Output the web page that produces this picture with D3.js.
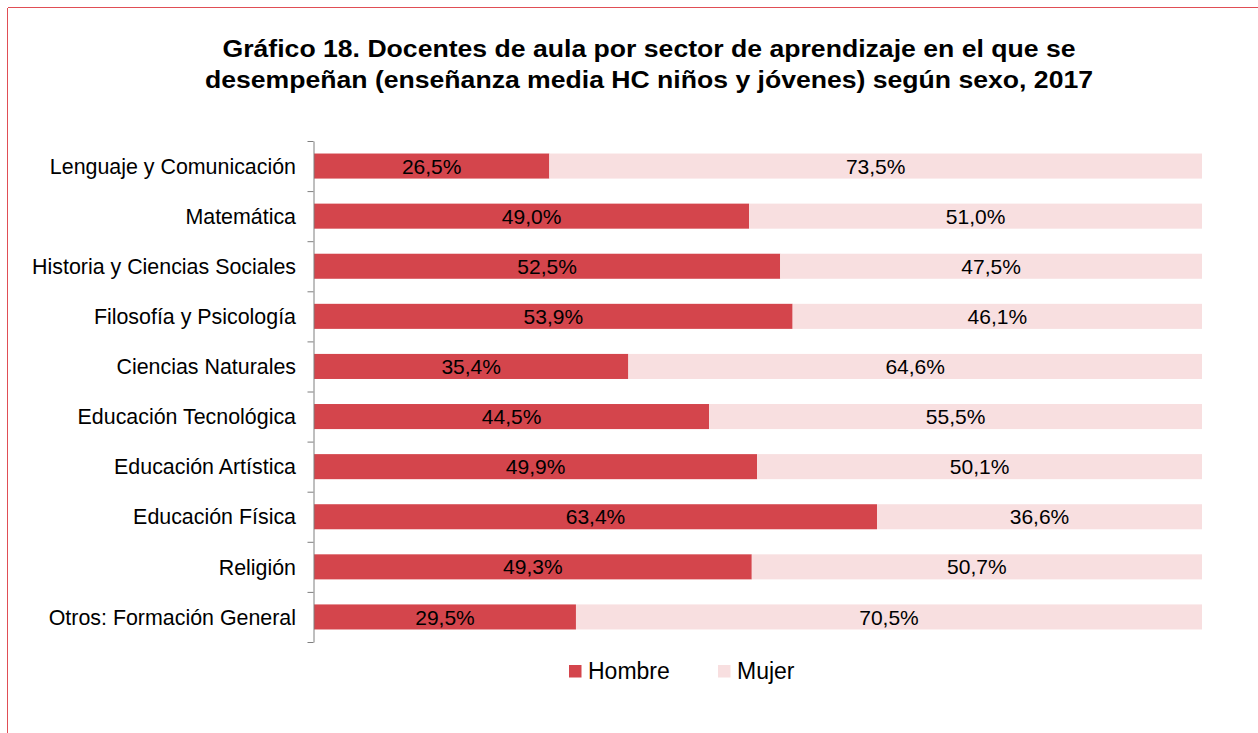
<!DOCTYPE html>
<html>
<head>
<meta charset="utf-8">
<script src="https://cdn.jsdelivr.net/npm/d3@7"></script>
<style>
  body { margin: 0; background: #fff; }
  text { font-family: "Liberation Sans", Arial, sans-serif; fill: #000; }
</style>
</head>
<body>
<svg width="1258" height="733"></svg>
<script>
// chart data
var categories = ["Lenguaje y Comunicación", "Matemática", "Historia y Ciencias Sociales",
  "Filosofía y Psicología", "Ciencias Naturales", "Educación Tecnológica",
  "Educación Artística", "Educación Física", "Religión", "Otros: Formación General"];
var hombre = [26.5, 49.0, 52.5, 53.9, 35.4, 44.5, 49.9, 63.4, 49.3, 29.5];
var mujer = [73.5, 51.0, 47.5, 46.1, 64.6, 55.5, 50.1, 36.6, 50.7, 70.5];
var seriesNames = ["Hombre", "Mujer"];
var titleLines = ["Gráfico 18. Docentes de aula por sector de aprendizaje en el que se",
  "desempeñan (enseñanza media HC niños y jóvenes) según sexo, 2017"];

var colors = {Hombre: "#d4454c", Mujer: "#f8dfe0"};

var svg = d3.select("svg");

// outer frame (runs off the right and bottom edges)
svg.append("g")
    .attr("stroke", "#e04e55")
    .attr("stroke-width", 1.5)
    .attr("shape-rendering", "crispEdges")
  .selectAll("line")
    .data([[7.5, 7.5, 1258, 7.5], [7.5, 7.5, 7.5, 733]])
  .enter().append("line")
    .attr("x1", function(d) { return d[0]; })
    .attr("y1", function(d) { return d[1]; })
    .attr("x2", function(d) { return d[2]; })
    .attr("y2", function(d) { return d[3]; });

// title, stretched a little wider like the original
var titleWidths = [853, 888];
svg.append("g").selectAll("text")
    .data(titleLines)
  .enter().append("text")
    .attr("x", 649)
    .attr("y", function(d, i) { return 56.5 + i * 31.5; })
    .attr("text-anchor", "middle")
    .attr("textLength", function(d, i) { return titleWidths[i]; })
    .attr("lengthAdjust", "spacingAndGlyphs")
    .style("font-size", "23px")
    .style("font-weight", "bold")
    .text(function(d) { return d; });

var plotLeft = 314, plotRight = 1202, plotTop = 141, plotBottom = 642;

var x = d3.scaleLinear().domain([0, 100]).range([plotLeft, plotRight]);
var y = d3.scaleBand().domain(categories).range([plotTop, plotBottom])
    .paddingInner(0.5).paddingOuter(0.25);
var yIdx = d3.scaleLinear().domain([0, categories.length]).range([plotTop, plotBottom]);

var rows = categories.map(function(c, i) {
  return {cat: c, Hombre: hombre[i], Mujer: mujer[i]};
});
var stacked = d3.stack().keys(seriesNames)(rows);

var layers = svg.append("g").selectAll("g")
    .data(stacked)
  .enter().append("g")
    .attr("fill", function(d) { return colors[d.key]; });

layers.selectAll("rect")
    .data(function(d) { return d; })
  .enter().append("rect")
    .attr("x", function(d) { return x(d[0]); })
    .attr("y", function(d) { return y(d.data.cat); })
    .attr("width", function(d) { return x(d[1]) - x(d[0]); })
    .attr("height", y.bandwidth());

// value labels
var fmt = function(v) { return v.toFixed(1).replace(".", ",") + "%"; };
layers.selectAll("text")
    .data(function(d) { return d; })
  .enter().append("text")
    .attr("x", function(d) { return (x(d[0]) + x(d[1])) / 2; })
    .attr("y", function(d) { return y(d.data.cat) + y.bandwidth() / 2; })
    .attr("dy", "0.36em")
    .attr("text-anchor", "middle")
    .style("font-size", "21px")
    .text(function(d) { return fmt(d[1] - d[0]); });

// y axis with ticks between categories
var axis = svg.append("g")
    .attr("transform", "translate(" + (plotLeft - 0.5) + ",0)")
    .call(d3.axisLeft(yIdx).tickValues(d3.range(categories.length + 1))
      .tickSize(6).tickSizeOuter(0).tickFormat(""));
axis.selectAll("path, line").attr("stroke", "#7f7f7f");

// category labels
svg.append("g").selectAll("text")
    .data(categories)
  .enter().append("text")
    .attr("x", 296)
    .attr("y", function(d) { return y(d) + y.bandwidth() / 2; })
    .attr("dy", "0.36em")
    .attr("text-anchor", "end")
    .style("font-size", "21.4px")
    .text(function(d) { return d; });

// legend
var legendX = [569, 718];
var legend = svg.append("g").selectAll("g")
    .data(seriesNames)
  .enter().append("g")
    .attr("transform", function(d, i) { return "translate(" + legendX[i] + ",665)"; });
legend.append("rect")
    .attr("width", 12.5).attr("height", 12.5)
    .attr("fill", function(d) { return colors[d]; });
legend.append("text")
    .attr("x", 19).attr("y", 14)
    .style("font-size", "23px")
    .text(function(d) { return d; });
</script>
</body>
</html>
